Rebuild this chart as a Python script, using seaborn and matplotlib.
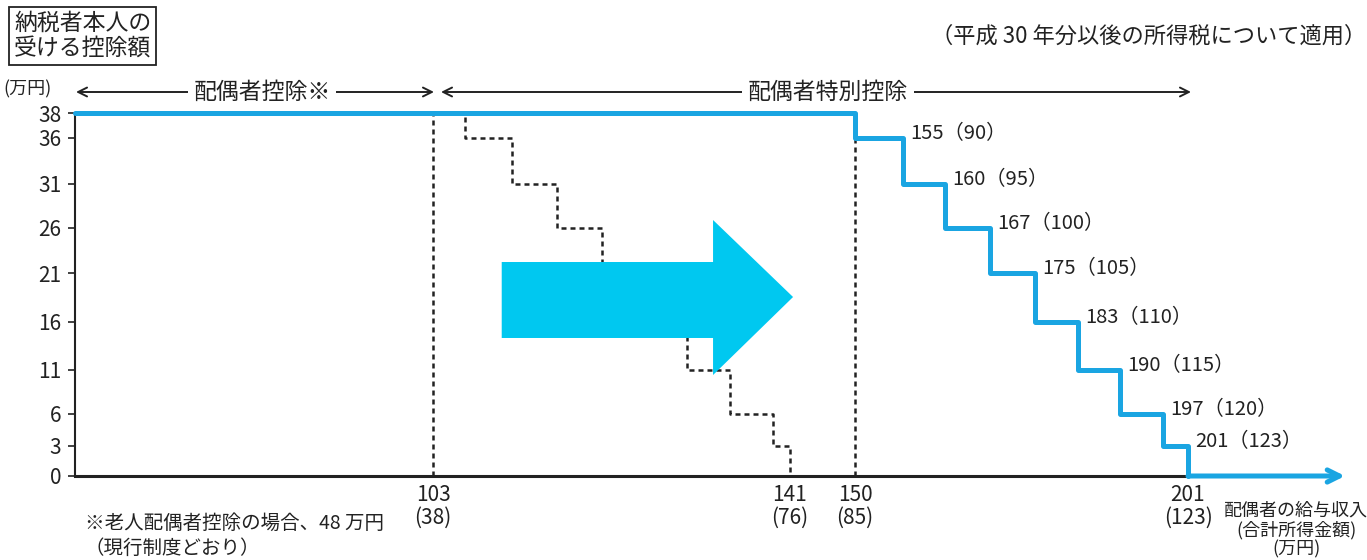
import numpy as np
import matplotlib
matplotlib.use("Agg")
import matplotlib.pyplot as plt
import seaborn as sns
from matplotlib.patches import Polygon

# ---------------- data ----------------
new_income = [0, 150, 155, 160, 167, 175, 183, 190, 197, 201]
new_deduction = [38, 36, 31, 26, 21, 16, 11, 6, 3, 0]
old_income = [103, 105, 110, 115, 120, 125, 130, 135, 140, 141]
old_deduction = [38, 36, 31, 26, 21, 16, 11, 6, 3, 0]
label_income = [155, 160, 167, 175, 183, 190, 197, 201]
label_level = [36, 31, 26, 21, 16, 11, 6, 3]
step_labels = ["155（90）", "160（95）", "167（100）", "175（105）",
               "183（110）", "190（115）", "197（120）", "201（123）"]
ytick_values = [0, 3, 6, 11, 16, 21, 26, 31, 36, 38]
xtick_values = [103, 141, 150, 201]
xtick_labels = ["103\n(38)", "141\n(76)", "150\n(85)", "201\n(123)"]

# ---------------- style ----------------
sns.set_style("white")
plt.rcParams["font.family"] = ["Noto Sans CJK JP", "DejaVu Sans"]
BLUE = "#1aa5e2"
CYAN = "#00c8f0"
INK = "#222222"

fig = plt.figure(figsize=(13.67, 5.6), dpi=100)
ax = fig.add_axes([75 / 1367, 84 / 560, 1270 / 1367, 363 / 560])

# schematic (piecewise-linear) scales of the original diagram
kx = [0, 103, 105, 110, 115, 120, 125, 130, 135, 140, 141, 150, 155, 160,
      167, 175, 183, 190, 197, 201, 230]
kp = [0, 358, 390, 437, 482, 527, 570, 612, 655, 698, 715, 780, 828, 870,
      915, 960, 1003, 1045, 1088, 1113, 1270]
ky = [0, 3, 6, 11, 16, 21, 26, 31, 36, 38]
kq = [0, 30, 62, 106, 154, 203, 248, 292, 338, 363]


def fwd_x(x):
    return np.interp(np.asarray(x, dtype=float), kx, kp)


def inv_x(p):
    return np.interp(np.asarray(p, dtype=float), kp, kx)


def fwd_y(y):
    return np.interp(np.asarray(y, dtype=float), ky, kq)


def inv_y(q):
    return np.interp(np.asarray(q, dtype=float), kq, ky)


ax.set_xscale("function", functions=(fwd_x, inv_x))
ax.set_yscale("function", functions=(fwd_y, inv_y))
ax.set_xlim(0, 230)
ax.set_ylim(0, 38)

dot = (0, (2.0, 1.6))
# old system (dotted)
sns.lineplot(x=old_income, y=old_deduction, drawstyle="steps-post", color=INK,
             lw=1.8, linestyle=dot, estimator=None, sort=False, ax=ax,
             zorder=2, clip_on=False)
ax.vlines([old_income[0]], 0, old_deduction[0], colors=INK, lw=1.8,
          linestyles=[dot], zorder=2)
ax.vlines([new_income[1]], 0, new_deduction[1], colors=INK, lw=1.8,
          linestyles=[dot], zorder=2)

# new system (blue)
sns.lineplot(x=new_income, y=new_deduction, drawstyle="steps-post", color=BLUE,
             lw=3.6, estimator=None, sort=False, ax=ax, zorder=5, clip_on=False)
ax.annotate("", xy=(230, 0), xytext=(new_income[-1], 0), xycoords="data",
            arrowprops=dict(arrowstyle="->", color=BLUE, lw=3.6,
                            mutation_scale=22, shrinkA=0, shrinkB=0),
            annotation_clip=False, zorder=5)

for x, lvl, t in zip(label_income, label_level, step_labels):
    ax.annotate(t, xy=(x, lvl), xytext=(5, 3), textcoords="offset points",
                ha="left", va="center", fontsize=14.5, color=INK)

# big cyan arrow (decoration, axes fraction)
arrow = Polygon([(0.336, 0.3802), (0.336, 0.5895), (0.5024, 0.5895),
                 (0.5024, 0.7052), (0.5654, 0.4931), (0.5024, 0.2782),
                 (0.5024, 0.3802)], closed=True, transform=ax.transAxes,
                facecolor=CYAN, edgecolor="none", zorder=4)
ax.add_patch(arrow)

# axes
for s in ["top", "right"]:
    ax.spines[s].set_visible(False)
ax.spines["left"].set_color(INK)
ax.spines["left"].set_linewidth(1.5)
ax.spines["bottom"].set_color(INK)
ax.spines["bottom"].set_linewidth(2.2)
ax.spines["bottom"].set_bounds(0, 201)
ax.set_yticks(ytick_values)
ax.set_yticklabels([str(v) for v in ytick_values])
ax.yaxis.set_minor_locator(matplotlib.ticker.NullLocator())
ax.xaxis.set_minor_locator(matplotlib.ticker.NullLocator())
ax.tick_params(axis="y", length=5, width=1.2, color=INK, pad=5,
               labelsize=15, labelcolor=INK, left=True)
ax.set_xticks(xtick_values)
ax.set_xticklabels(xtick_labels, linespacing=1.05)
ax.tick_params(axis="x", length=0, pad=6, labelsize=15, labelcolor=INK)
ax.set_xlabel("")
ax.set_ylabel("")
ax.grid(False)

# ---------------- texts ----------------
fig.text(14 / 1367, 1 - 36 / 560, "納税者本人の\n受ける控除額", fontsize=16.5,
         ha="left", va="center", linespacing=1.12, color=INK,
         bbox=dict(boxstyle="square,pad=0.22", facecolor="white",
                   edgecolor=INK, lw=1.3))
fig.text(1366 / 1367, 1 - 36 / 560, "（平成 30 年分以後の所得税について適用）",
         fontsize=16, ha="right", va="center", color=INK)
fig.text(3 / 1367, 1 - 89 / 560, "(万円)", fontsize=13, ha="left",
         va="center", color=INK)

# bracket arrows
for x0, x1, tx, t in [(76, 434, 262, "配偶者控除※"),
                      (441, 1191, 828, "配偶者特別控除")]:
    ax.annotate("", xy=(x1, 468), xytext=(x0, 468), xycoords="figure pixels",
                arrowprops=dict(arrowstyle="<->", color=INK, lw=1.4,
                                mutation_scale=16, shrinkA=0, shrinkB=0),
                annotation_clip=False)
    fig.text(tx / 1367, 468 / 560, t, fontsize=16.5, ha="center", va="center",
             color=INK, bbox=dict(boxstyle="square,pad=0.25",
                                  facecolor="white", edgecolor="none"))

fig.text(85 / 1367, 1 - 523 / 560, "※老人配偶者控除の場合、48 万円",
         fontsize=14, ha="left", va="center", color=INK)
fig.text(85 / 1367, 1 - 548 / 560, "（現行制度どおり）",
         fontsize=14, ha="left", va="center", color=INK)
fig.text(1296 / 1367, 1 - 530 / 560, "配偶者の給与収入\n(合計所得金額)\n(万円)",
         fontsize=13, ha="center", va="center", linespacing=1.05, color=INK)

fig.savefig("out.png", dpi=100)
